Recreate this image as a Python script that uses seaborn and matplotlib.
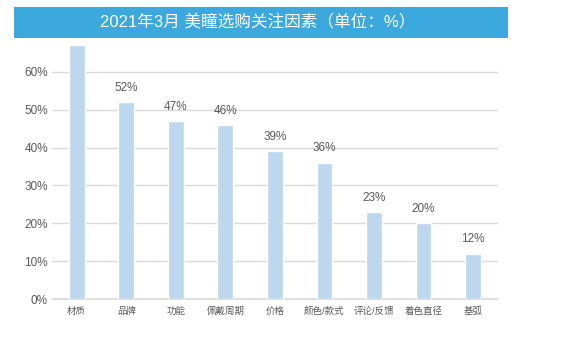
import matplotlib
matplotlib.use("Agg")
import matplotlib.pyplot as plt
from matplotlib.patches import Rectangle
from matplotlib.ticker import PercentFormatter
import seaborn as sns
import pandas as pd

categories = ["材质", "品牌", "功能", "佩戴周期", "价格", "颜色/款式", "评论/反馈", "着色直径", "基弧"]
shares = [0.67, 0.52, 0.47, 0.46, 0.39, 0.36, 0.23, 0.20, 0.12]
y_ticks = [0.0, 0.1, 0.2, 0.3, 0.4, 0.5, 0.6]
title = "2021年3月 美瞳选购关注因素（单位：%）"

sns.set_theme(style="white")
plt.rcParams["font.family"] = ["Liberation Sans", "Noto Sans CJK SC", "DejaVu Sans"]

df = pd.DataFrame({"factor": categories, "share": shares})

fig = plt.figure(figsize=(5.83, 3.47), dpi=100)
fig.patch.set_facecolor("white")
ax = fig.add_axes([0.0892, 0.1383, 0.7648, 0.7637])

sns.barplot(data=df, x="factor", y="share", color="#BDD7EE", saturation=1,
            width=0.32, ax=ax, zorder=3)

ax.set_ylim(0, 0.70)
ax.set_xlim(-0.5, len(categories) - 0.5)
ax.set_yticks(y_ticks)
ax.yaxis.set_major_formatter(PercentFormatter(1.0, decimals=0))
ax.grid(axis="y", color="#D9D9D9", linewidth=1.0, zorder=0)
ax.set_axisbelow(True)
for side in ["top", "right", "left"]:
    ax.spines[side].set_visible(False)
ax.spines["bottom"].set_color("#D9D9D9")
ax.spines["bottom"].set_linewidth(1.2)
ax.set_xlabel("")
ax.set_ylabel("")
ax.tick_params(axis="both", length=0, colors="#595959")
ax.tick_params(axis="y", pad=3, labelsize=8.5)
ax.tick_params(axis="x", pad=5.5, labelsize=6.8)

for i, v in enumerate(shares):
    ax.annotate(f"{round(v * 100)}%", (i, v), xytext=(0, 6), textcoords="offset points",
                ha="center", va="bottom", fontsize=8.5, color="#595959")

# Title banner across the top of the chart
fig.patches.append(Rectangle((14 / 583, 1 - 38 / 347), 494 / 583, 31 / 347,
                             transform=fig.transFigure, facecolor="#3BA8DE",
                             edgecolor="none", zorder=5))
fig.text(258 / 583, 1 - 22.5 / 347, title, ha="center", va="center",
         color="white", fontsize=12, zorder=6)

fig.savefig("out.png", dpi=100)
